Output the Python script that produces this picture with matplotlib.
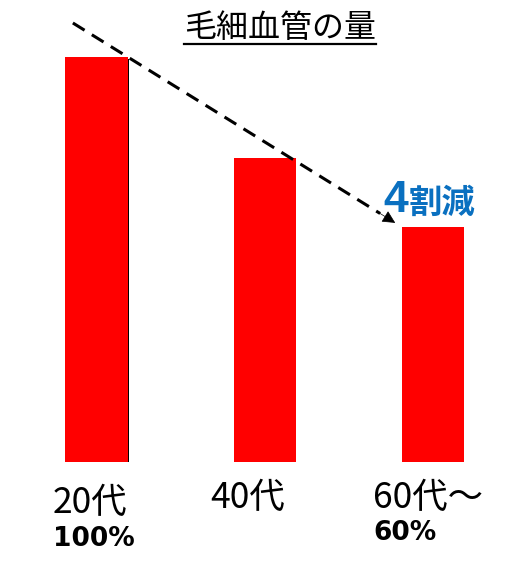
import matplotlib

matplotlib.use("Agg")
import matplotlib.pyplot as plt
import matplotlib.patheffects as pe
from matplotlib.lines import Line2D
import numpy as np

plt.rcParams["font.family"] = ["Noto Sans CJK JP", "DejaVu Sans"]

# データ
categories = ["20代", "40代", "60代～"]
values = [100, 75, 58]
pct_labels = {0: "100%", 2: "60%"}
title = "毛細血管の量"
note_num = "4"
note_text = "割減"

W, H, DPI = 514, 573, 100
fig = plt.figure(figsize=(W / DPI, H / DPI), dpi=DPI)
# 軸: 下端 y=462px、値100 が y=57px
ax = fig.add_axes([0, 1 - 462 / H, 1, 405 / H])
ax.set_xlim(-0.574, 2.48)
ax.set_ylim(0, 100)
ax.axis("off")

x = np.arange(len(categories))
width = 0.37
bars = ax.bar(x, values, width=width, color="#ff0000", edgecolor="none", zorder=2)
# 一本目だけ右下に黒い影
bars[0].set_path_effects([
    pe.SimplePatchShadow(offset=(1.2, -1.2), shadow_rgbFace="black", alpha=1.0),
    pe.Normal(),
])

# 破線の矢印（一本目の右上角から三本目の左上角へ）
p1 = np.array([x[0] + width / 2, values[0]])
p2 = np.array([x[2] - width / 2, values[2]])
start = p1 + (-0.2) * (p2 - p1)
end = p1 + 0.975 * (p2 - p1)
pre = p1 + 0.92 * (p2 - p1)
ax.plot([start[0], pre[0]], [start[1], pre[1]], color="black", lw=2.2,
        dashes=(4.5, 2.8), clip_on=False, zorder=3)
ax.annotate("", xy=end, xytext=pre,
            arrowprops=dict(arrowstyle="-|>", color="black", lw=0.5,
                            mutation_scale=20, shrinkA=0, shrinkB=0),
            annotation_clip=False, zorder=3)

# タイトル（下線付き）
t = fig.text(280 / W, 1 - 28 / H, title, fontsize=23, ha="center", va="center")
fig.canvas.draw()
bb = t.get_window_extent()
fig.add_artist(Line2D([bb.x0 / W, bb.x1 / W], [1 - 43.5 / H] * 2,
                      transform=fig.transFigure, color="black", lw=1.6))

# 4割減
blue = "#0a70c0"
fig.text(383 / W, 1 - 200 / H, note_num, fontsize=32, fontweight="bold", color=blue,
         family=["Liberation Sans"], ha="left", va="center")
fig.text(409 / W, 1 - 203 / H, note_text, fontsize=24, fontweight="bold", color=blue,
         ha="left", va="center")

# カテゴリラベル
cat_pos = [(53, 503), (210, 498), (373, 498)]
for (px, py), lab in zip(cat_pos, categories):
    fig.text(px / W, 1 - py / H, lab, fontsize=25.5, ha="left", va="center")

pct_pos = {0: (53, 539), 2: (373, 533)}
for i, lab in pct_labels.items():
    px, py = pct_pos[i]
    fig.text(px / W, 1 - py / H, lab, fontsize=19, fontweight="bold",
             family=["DejaVu Sans"], ha="left", va="center")

fig.savefig("out.png", dpi=DPI)
